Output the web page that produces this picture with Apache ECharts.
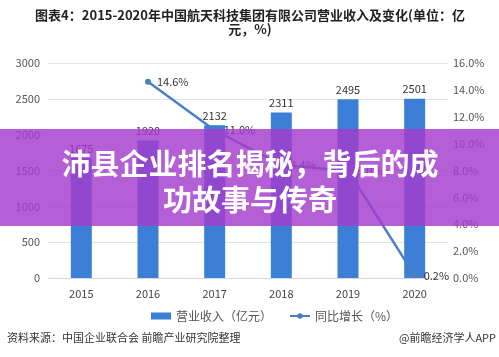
<!DOCTYPE html>
<html><head><meta charset="utf-8">
<script src="https://cdn.jsdelivr.net/npm/echarts@6/dist/echarts.min.js"></script>
<style>html,body{margin:0;padding:0;background:#fff}#c{width:499px;height:357px}</style>
</head><body><div id="c"></div>
<script>
var years = ['2015','2016','2017','2018','2019','2020'];
var revenue = [1675, 1920, 2132, 2311, 2495, 2501];
var growth = [null, 14.6, 11.0, 8.4, 8.0, 0.2];
var leftTicks = {min: 0, max: 3000, interval: 500};
var rightTicks = {min: 0, max: 16, interval: 2};
var titleLine1 = '图表4：2015-2020年中国航天科技集团有限公司营业收入及变化(单位：亿';
var titleLine2 = '元，%)';
var bannerText = '沛县企业排名揭秘，背后的成\n功故事与传奇';
var FONT = '"Noto Sans CJK SC", "Noto Sans", sans-serif';

var chart = echarts.init(document.getElementById('c'));
chart.setOption({
  animation: false,
  backgroundColor: '#fff',
  textStyle: {fontFamily: FONT},
  grid: {left: 48, right: 51, top: 63, bottom: 79},
  legend: {
    left: 146, top: 305, itemWidth: 20, itemHeight: 7, itemGap: 17,
    textStyle: {fontSize: 12, color: '#555'},
    data: [{name: '营业收入（亿元）', icon: 'rect'}, {name: '同比增长（%）'}]
  },
  xAxis: {
    type: 'category', data: years,
    axisLine: {lineStyle: {color: '#d9d9d9'}},
    axisTick: {show: false},
    axisLabel: {color: '#444', fontSize: 11, margin: 10}
  },
  yAxis: [{
    type: 'value', min: leftTicks.min, max: leftTicks.max, interval: leftTicks.interval,
    axisLine: {show: false}, axisTick: {show: false},
    axisLabel: {color: '#555', fontSize: 11, margin: 8, formatter: function(v){return String(v);}},
    splitLine: {lineStyle: {color: '#e3e3e3'}}
  }, {
    type: 'value', min: rightTicks.min, max: rightTicks.max, interval: rightTicks.interval,
    axisLine: {show: false}, axisTick: {show: false},
    axisLabel: {color: '#555', fontSize: 11, margin: 5, formatter: function(v){return v.toFixed(1)+'%';}},
    splitLine: {show: false}
  }],
  series: [{
    name: '营业收入（亿元）', type: 'bar', data: revenue, barWidth: 21,
    itemStyle: {color: '#3b7fd6'},
    label: {show: true, position: 'top', color: '#333', fontSize: 11, distance: 4}
  }, {
    name: '同比增长（%）', type: 'line', yAxisIndex: 1, data: growth,
    symbol: 'circle', symbolSize: 6,
    lineStyle: {color: '#4a7fc4', width: 2.5},
    itemStyle: {color: '#4a7fc4'},
    label: {show: true, position: 'right', distance: 6, color: '#333', fontSize: 11,
      formatter: function(p){return p.value.toFixed(1)+'%';}}
  }],
  graphic: [
    {type: 'text', x: 250, y: 9,
     style: {text: titleLine1, fill: '#222', font: 'bold 13px ' + FONT, textAlign: 'center'}},
    {type: 'text', x: 250, y: 23,
     style: {text: titleLine2, fill: '#222', font: 'bold 13px ' + FONT, textAlign: 'center'}},
    {type: 'rect', z: 100, shape: {x: 0, y: 129, width: 499, height: 97},
     style: {fill: 'rgba(165,60,205,0.82)'}},
    {type: 'text', z: 101, x: 250, y: 146,
     style: {text: bannerText, fill: '#fff', font: 'bold 29px ' + FONT, lineHeight: 36, textAlign: 'center'}},
    {type: 'text', left: 7, top: 332,
     style: {text: '资料来源：中国企业联合会 前瞻产业研究院整理', fill: '#333', font: '11px ' + FONT}},
    {type: 'text', right: 3, top: 332,
     style: {text: '@前瞻经济学人APP', fill: '#333', font: '11px ' + FONT}}
  ]
});
</script></body></html>
